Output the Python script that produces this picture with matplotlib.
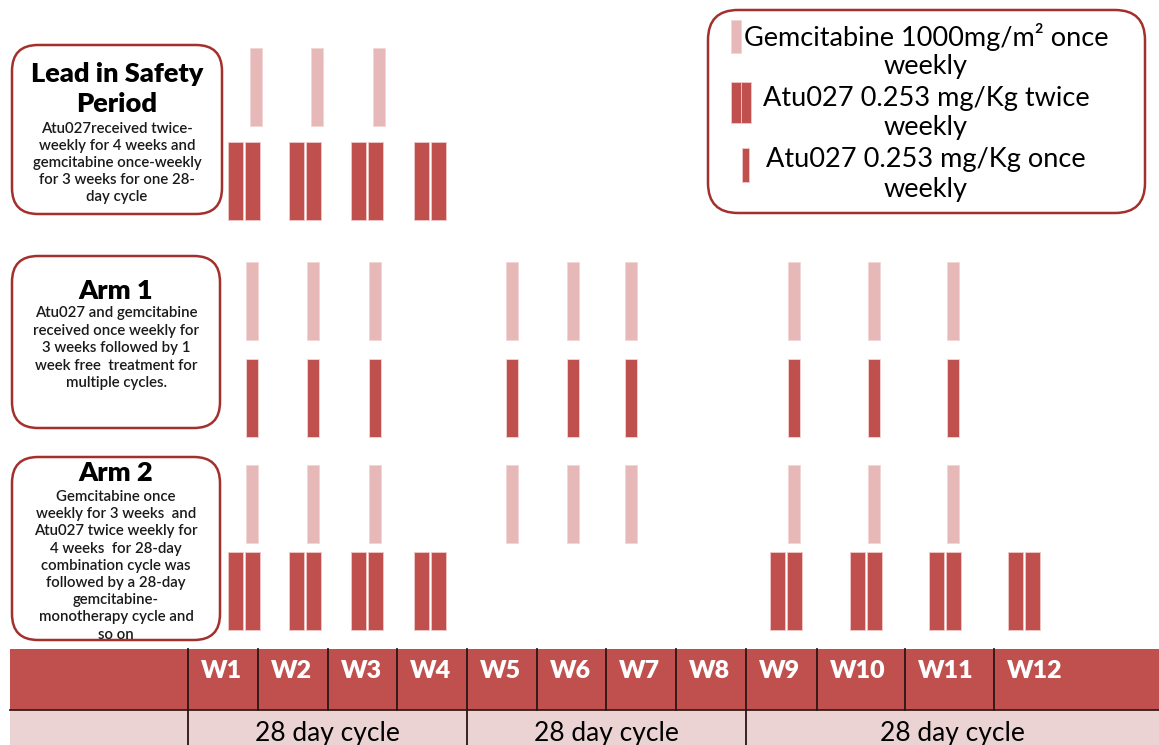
import matplotlib
matplotlib.use("Agg")
import matplotlib.pyplot as plt
from matplotlib.patches import FancyBboxPatch, Rectangle

# ---------------- data ----------------
weeks = [f"W{i}" for i in range(1, 13)]
cycle_labels = ["28 day cycle", "28 day cycle", "28 day cycle"]
cycle_weeks = [(1, 4), (5, 8), (9, 12)]

lead_gem_weeks = [1, 2, 3]
lead_twice_weeks = [1, 2, 3, 4]
arm1_gem_weeks = [1, 2, 3, 5, 6, 7, 9, 10, 11]
arm1_once_weeks = [1, 2, 3, 5, 6, 7, 9, 10, 11]
arm2_gem_weeks = [1, 2, 3, 5, 6, 7, 9, 10, 11]
arm2_twice_weeks = [1, 2, 3, 4, 9, 10, 11, 12]

lead_title = "Lead in Safety\nPeriod"
lead_text = ["Atu027received twice-", "weekly for 4 weeks and", "gemcitabine once-weekly",
             "for 3 weeks for one 28-", "day cycle"]
arm1_title = "Arm 1"
arm1_text = ["Atu027 and gemcitabine", "received once weekly for", "3 weeks followed by 1",
             "week free  treatment for", "multiple cycles."]
arm2_title = "Arm 2"
arm2_text = ["Gemcitabine once", "weekly for 3 weeks  and", "Atu027 twice weekly for",
             "4 weeks  for 28-day", "combination cycle was", "followed by a 28-day",
             "gemcitabine-", "monotherapy cycle and", "so on"]
legend_labels = [("Gemcitabine 1000mg/m\u00b2 once", "weekly"),
                 ("Atu027 0.253 mg/Kg twice", "weekly"),
                 ("Atu027 0.253 mg/Kg once", "weekly")]

# ---------------- layout (pixel space) ----------------
W, H = 1159, 745
col_edges = [188, 258, 328, 397, 467, 537, 606, 676, 746, 817, 905, 994, 1159]
week_anchor = [244, 305, 367, 430, 504, 565, 623, 700, 786, 866, 945, 1024]
gem_shift = 8
pair_w, pair_gap = 15, 2
single_w = 12
row_h = 78

RED = "#C0504D"
PINK = "#E6B9B8"
ROWPINK = "#EBD3D3"
EDGE = "#A3302D"
FONT = ["Lato", "DejaVu Sans"]
BODY = dict(fontsize=10.8, family=FONT, fontweight="semibold", color="#1a1a1a",
            ha="center", va="center", zorder=4)
TITLE = dict(fontsize=19.5, family=FONT, fontweight="heavy", color="black",
             ha="center", va="center", zorder=4)

fig = plt.figure(figsize=(W / 100, H / 100), dpi=100)
ax = fig.add_axes([0, 0, 1, 1])
ax.set_xlim(0, W)
ax.set_ylim(H, 0)
ax.axis("off")


def x_of(w):
    return week_anchor[w - 1]


def draw_single(weeks_list, top, color, shift):
    xs = [x_of(w) + shift for w in weeks_list]
    ax.bar(xs, [row_h] * len(xs), bottom=top, width=single_w, color=color,
           edgecolor="#F3D6D6", linewidth=0.6, zorder=3)


def draw_pair(weeks_list, top):
    xs = []
    for w in weeks_list:
        c = x_of(w)
        xs += [c - (pair_w + pair_gap) / 2, c + (pair_w + pair_gap) / 2]
    ax.bar(xs, [row_h] * len(xs), bottom=top, width=pair_w, color=RED,
           edgecolor="#F0C8C8", linewidth=0.6, zorder=3)


# lead-in
draw_single(lead_gem_weeks, 48, PINK, gem_shift + 4)
draw_pair(lead_twice_weeks, 142)
# arm 1
draw_single(arm1_gem_weeks, 262, PINK, gem_shift)
draw_single(arm1_once_weeks, 359, RED, gem_shift)
# arm 2
draw_single(arm2_gem_weeks, 465, PINK, gem_shift)
draw_pair(arm2_twice_weeks, 552)


def rbox(x0, y0, x1, y1, r=26):
    p = FancyBboxPatch((x0, y0), x1 - x0, y1 - y0,
                       boxstyle=f"round,pad=0,rounding_size={r}",
                       facecolor="white", edgecolor=EDGE, linewidth=1.8, zorder=2)
    ax.add_patch(p)


# description boxes
rbox(12, 45, 222, 214)
ax.text(117, 74, lead_title.split("\n")[0], **TITLE)
ax.text(117, 104, lead_title.split("\n")[1], **TITLE)
for i, t in enumerate(lead_text):
    ax.text(117, 129 + i * 17, t, **BODY)

rbox(12, 256, 220, 428)
ax.text(116, 291, arm1_title, **TITLE)
for i, t in enumerate(arm1_text):
    ax.text(116, 313 + i * 17.5, t, **BODY)

rbox(12, 457, 220, 640)
ax.text(116, 473, arm2_title, **TITLE)
for i, t in enumerate(arm2_text):
    ax.text(116, 497 + i * 17.2, t, **BODY)

# legend box
rbox(708, 10, 1145, 213, r=30)
ax.bar([736], [33], bottom=20, width=10, color=PINK, edgecolor="#F3D6D6", linewidth=0.6, zorder=3)
ax.bar([735.5, 746], [41, 41], bottom=82, width=10, color=RED, edgecolor="#F0C8C8", linewidth=0.6, zorder=3)
ax.bar([745.5], [34], bottom=148, width=7, color=RED, edgecolor="#F0C8C8", linewidth=0.6, zorder=3)
for i, (l1, l2) in enumerate(legend_labels):
    y = 37 + i * 61.5
    ax.text(926, y, l1, ha="center", va="center", fontsize=19.5, family=FONT, color="black", zorder=4)
    ax.text(926, y + 29.5, l2, ha="center", va="center", fontsize=19.5, family=FONT, color="black", zorder=4)

# table
ax.add_patch(Rectangle((10, 649), W - 10, 61, facecolor=RED, edgecolor="none", zorder=2))
ax.add_patch(Rectangle((10, 710), W - 10, H - 710, facecolor=ROWPINK, edgecolor="none", zorder=2))
ax.plot([10, W], [710, 710], color="#3A1A1A", lw=1.3, zorder=3)
for e in col_edges[:-1]:
    ax.plot([e, e], [649, 710], color="#2A1515", lw=1.3, zorder=3)
for i, w in enumerate(weeks):
    ax.text(col_edges[i] + 13, 671, w, ha="left", va="center", fontsize=18, fontweight="heavy",
            family=FONT, color="white", zorder=4)
for lab, (a, b) in zip(cycle_labels, cycle_weeks):
    x0, x1 = col_edges[a - 1], col_edges[b]
    ax.plot([x0, x0], [710, H], color="#2A1515", lw=1.3, zorder=3)
    ax.text((x0 + x1) / 2, 733, lab, ha="center", va="center", fontsize=19, family=FONT,
            color="black", zorder=4)

fig.savefig("out.png", dpi=100)
